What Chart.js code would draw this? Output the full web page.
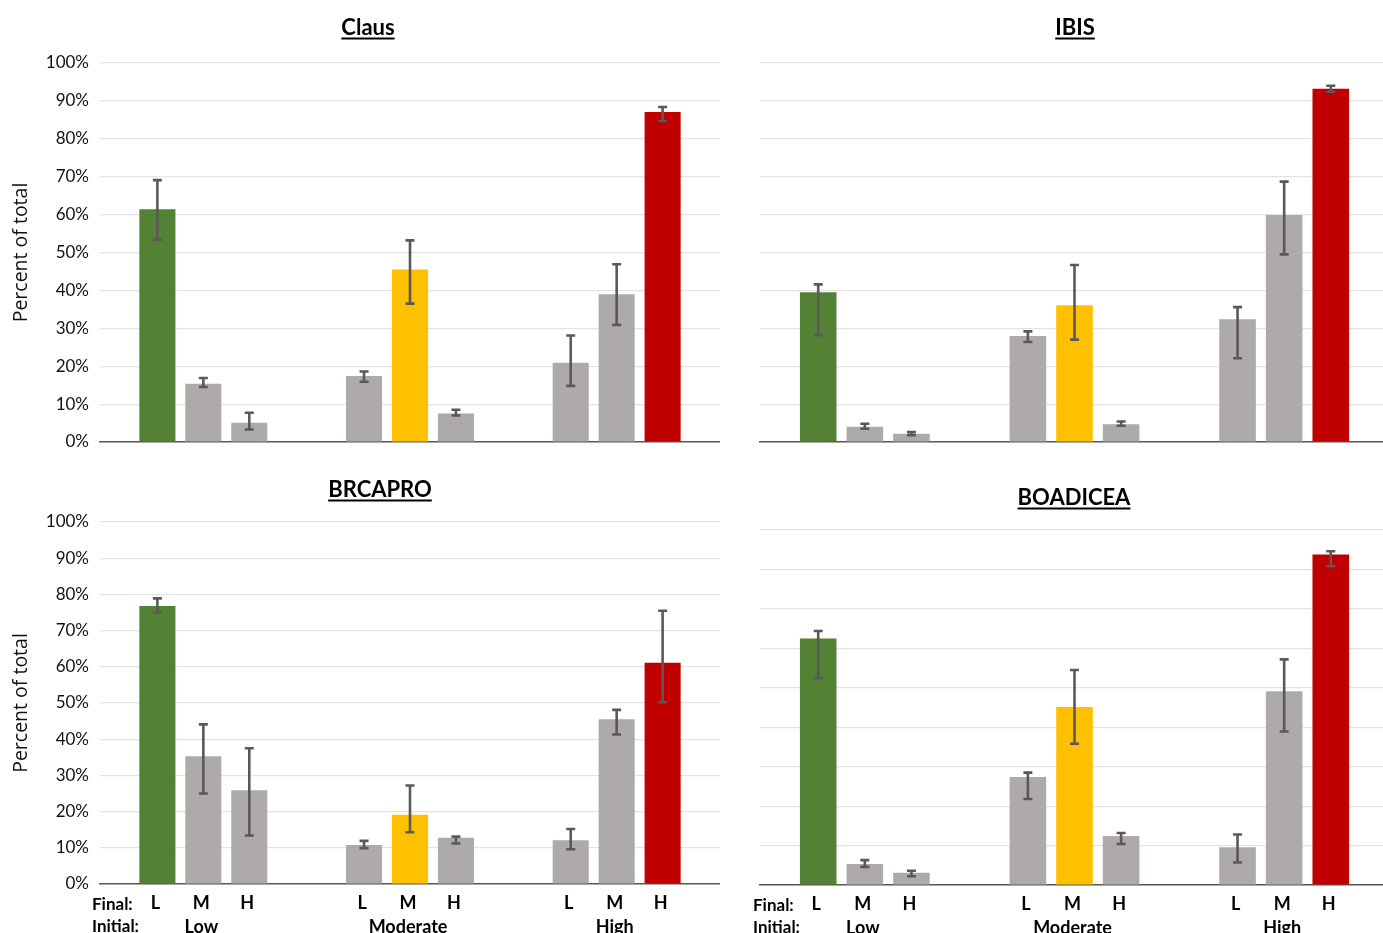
<!DOCTYPE html>
<html>
<head>
<meta charset="utf-8">
<script src="https://cdn.jsdelivr.net/npm/chart.js@4.4.1/dist/chart.umd.min.js"></script>
<style>
  html, body { margin:0; padding:0; background:#fff; overflow:hidden; width:1383px; height:933px; }
  .box { position:absolute; }
</style>
</head>
<body>
<div class="box" id="b0" style="left:0px;top:0px;width:720px;height:460px;"><canvas id="c0"></canvas></div>
<div class="box" id="b1" style="left:720px;top:0px;width:669px;height:460px;"><canvas id="c1"></canvas></div>
<div class="box" id="b2" style="left:0px;top:460px;width:720px;height:473px;"><canvas id="c2"></canvas></div>
<div class="box" id="b3" style="left:720px;top:460px;width:669px;height:473px;"><canvas id="c3"></canvas></div>
<script>
// ---------- DATA ----------
const initialGroups = ["Low", "Moderate", "High"];
const finalLabels = ["L", "M", "H"];
const yTickLabels = ["0%","10%","20%","30%","40%","50%","60%","70%","80%","90%","100%"];

// order: Low(L,M,H), Moderate(L,M,H), High(L,M,H)
const clausValues = [61.4, 15.4, 5.1, 17.4, 45.5, 7.5, 20.9, 39.0, 87.1];
const clausErrHigh = [69.1, 16.9, 7.7, 18.6, 53.2, 8.5, 28.1, 46.9, 88.4];
const clausErrLow  = [53.4, 14.5, 3.3, 15.9, 36.5, 7.0, 14.8, 30.9, 84.7];

const ibisValues = [39.5, 4.0, 2.2, 28.0, 36.1, 4.7, 32.4, 59.9, 93.2];
const ibisErrHigh = [41.6, 4.8, 2.6, 29.2, 46.7, 5.4, 35.6, 68.7, 94.0];
const ibisErrLow  = [28.2, 3.5, 1.8, 26.4, 27.0, 4.3, 22.1, 49.5, 92.4];

const brcaproValues = [76.8, 35.3, 25.9, 10.8, 19.1, 12.8, 12.1, 45.5, 61.1];
const brcaproErrHigh = [78.9, 44.1, 37.5, 11.9, 27.2, 13.1, 15.2, 48.1, 75.5];
const brcaproErrLow  = [75.0, 25.0, 13.4, 9.9, 14.3, 11.2, 9.6, 41.3, 50.2];

const boadiceaValues = [62.5, 5.3, 3.1, 27.4, 45.1, 12.4, 9.6, 49.1, 83.8];
const boadiceaErrHigh = [64.4, 6.3, 3.6, 28.5, 54.5, 13.2, 12.8, 57.2, 84.6];
const boadiceaErrLow  = [52.5, 4.6, 2.2, 21.8, 35.8, 10.4, 5.7, 38.9, 80.8];

// ---------- STYLE ----------
const GREEN = '#548235', GRAY = '#AEAAAA', YELLOW = '#FFC000', RED = '#C00000';
const diagColors = [GREEN, YELLOW, RED];

Chart.defaults.color = '#000';
Chart.defaults.animation = false;

function buildDatasets(values) {
  return finalLabels.map((f, fi) => ({
    label: f,
    data: initialGroups.map((g, gi) => values[gi * 3 + fi]),
    backgroundColor: initialGroups.map((g, gi) => gi === fi ? diagColors[gi] : GRAY),
    borderWidth: 0,
    categoryPercentage: 0.667,
    barPercentage: 0.785
  }));
}

const errorBarPlugin = {
  id: 'errbars',
  afterDatasetsDraw(chart, args, opts) {
    const ctx = chart.ctx, ys = chart.scales.y;
    ctx.save();
    ctx.strokeStyle = '#595959';
    chart.data.datasets.forEach((ds, fi) => {
      const meta = chart.getDatasetMeta(fi);
      meta.data.forEach((bar, gi) => {
        const idx = gi * 3 + fi;
        const yh = ys.getPixelForValue(opts.hi[idx]);
        const yl = ys.getPixelForValue(opts.lo[idx]);
        const x = bar.x;
        ctx.lineWidth = 2.6;
        ctx.beginPath(); ctx.moveTo(x, yh); ctx.lineTo(x, yl); ctx.stroke();
        ctx.beginPath();
        ctx.moveTo(x - 4.5, yh); ctx.lineTo(x + 4.5, yh);
        ctx.moveTo(x - 4.5, yl); ctx.lineTo(x + 4.5, yl);
        ctx.stroke();
      });
    });
    ctx.restore();
  }
};

const headPlugin = {
  id: 'head',
  afterDraw(chart, args, opts) {
    const ctx = chart.ctx;
    ctx.save();
    // title
    ctx.font = 'bold 22px Lato';
    ctx.fillStyle = '#000';
    ctx.textAlign = 'center';
    ctx.textBaseline = 'alphabetic';
    ctx.fillText(opts.title, opts.tx, opts.ty);
    const w = ctx.measureText(opts.title).width;
    ctx.fillRect(opts.tx - w / 2, opts.ty + 2.5, w, 2);
    // x labels
    if (opts.xlabels) {
      const ca = chart.chartArea;
      ctx.font = 'bold 17px Lato';
      ctx.textBaseline = 'middle';
      ctx.textAlign = 'left';
      ctx.fillText('Final:', opts.fx, ca.bottom + 21);
      ctx.fillText('Initial:', opts.fx, ca.bottom + 43);
      ctx.font = 'bold 18px Lato';
      ctx.textAlign = 'center';
      chart.data.datasets.forEach((ds, fi) => {
        chart.getDatasetMeta(fi).data.forEach(bar => {
          ctx.fillText(finalLabels[fi], bar.x - 2, ca.bottom + 19);
        });
      });
      const xs = chart.scales.x;
      initialGroups.forEach((g, gi) => {
        ctx.fillText(g, xs.getPixelForValue(gi) - 2, ca.bottom + 43);
      });
    }
    ctx.restore();
  }
};

function makeChart(id, cfg) {
  return new Chart(document.getElementById(id), {
    type: 'bar',
    data: { labels: initialGroups, datasets: buildDatasets(cfg.values) },
    plugins: [errorBarPlugin, headPlugin],
    options: {
      responsive: true,
      maintainAspectRatio: false,
      layout: { padding: { top: cfg.padTop, bottom: cfg.padBottom, left: 0, right: 0 } },
      plugins: {
        legend: { display: false },
        tooltip: { enabled: false },
        errbars: { hi: cfg.hi, lo: cfg.lo },
        head: { title: cfg.title, tx: cfg.tx, ty: cfg.ty, xlabels: cfg.xlabels, fx: cfg.fx }
      },
      scales: {
        x: {
          grid: { display: false, drawTicks: false },
          ticks: { display: false },
          border: { display: true, color: '#595959', width: 1.6 },
          afterFit: s => { s.height = 0; s.paddingLeft = 0; s.paddingRight = 0; }
        },
        y: {
          min: 0, max: cfg.ymax,
          ticks: {
            display: cfg.yticks, stepSize: 10, padding: 11,
            font: { family: 'Lato', size: 17 }, color: '#111',
            callback: v => yTickLabels[Math.round(v / 10)]
          },
          grid: { color: '#e3e3e3', lineWidth: 1.2, drawTicks: false },
          border: { display: false },
          title: {
            display: cfg.yticks, text: 'Percent of total',
            font: { family: 'Open Sans', size: 19.5 }, color: '#111',
            padding: { top: 10, bottom: 0 }
          },
          afterFit: s => { s.width = cfg.yw; s.paddingTop = 0; s.paddingBottom = 0; }
        }
      }
    }
  });
}

makeChart('c0', { values: clausValues, hi: clausErrHigh, lo: clausErrLow, title: 'Claus',
  tx: 368, ty: 35, padTop: 63, padBottom: 18, ymax: 100, yticks: true, yw: 100, xlabels: false });
makeChart('c1', { values: ibisValues, hi: ibisErrHigh, lo: ibisErrLow, title: 'IBIS',
  tx: 355, ty: 35, padTop: 63, padBottom: 18, ymax: 100, yticks: false, yw: 40, xlabels: false });
makeChart('c2', { values: brcaproValues, hi: brcaproErrHigh, lo: brcaproErrLow, title: 'BRCAPRO',
  tx: 380, ty: 37, padTop: 62, padBottom: 49, ymax: 100, yticks: true, yw: 100, xlabels: true, fx: 92 });
makeChart('c3', { values: boadiceaValues, hi: boadiceaErrHigh, lo: boadiceaErrLow, title: 'BOADICEA',
  tx: 354, ty: 45, padTop: 70, padBottom: 48, ymax: 90, yticks: false, yw: 40, xlabels: true, fx: 33 });
</script>
</body>
</html>
